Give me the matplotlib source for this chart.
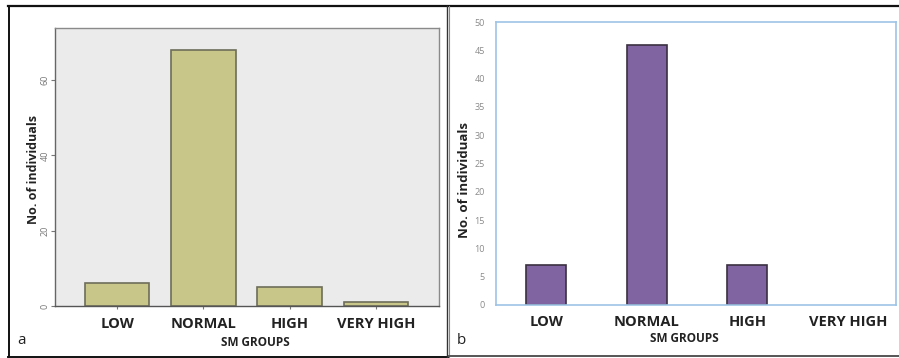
import matplotlib
matplotlib.use('Agg')
import matplotlib.pyplot as plt
from matplotlib.lines import Line2D

''' SM group counts, two panels (a: SPSS style, b: Excel style) '''

groups = ['LOW', 'NORMAL', 'HIGH', 'VERY HIGH']
counts_a = [6, 68, 5, 1]
counts_b = [7, 46, 7, 0]
yticks_a = [0, 20, 40, 60]
yticks_b = [0, 5, 10, 15, 20, 25, 30, 35, 40, 45, 50]

W, H = 899, 358
plt.rcParams['font.family'] = ['Open Sans', 'DejaVu Sans']


def px(x0, y0, x1, y1):
	# pixel box (top-left origin) -> figure fraction rect
	return [x0 / W, (H - y1) / H, (x1 - x0) / W, (y1 - y0) / H]


def main():
	fig = plt.figure(figsize=(W / 100, H / 100), dpi=100)
	fig.patch.set_facecolor('white')
	pos = range(len(groups))

	# panel a
	ax = fig.add_axes(px(55, 28, 439, 306))
	ax.set_facecolor('#ebebeb')
	ax.bar(pos, counts_a, width=0.75, color='#c8c688', edgecolor='#6e6e5a', linewidth=1.2, zorder=2)
	ax.set_xlim(-0.72, 3.73)
	ax.set_ylim(0, 73.8)
	ax.set_yticks(yticks_a)
	ax.set_yticklabels([str(v) for v in yticks_a], rotation=90, va='center', fontsize=6.5, color='#777777')
	ax.set_xticks(list(pos))
	ax.set_xticklabels(groups, fontsize=10.5, fontweight='bold', color='#222222')
	ax.tick_params(axis='y', length=3, width=0.8, color='#777777', pad=1)
	ax.tick_params(axis='x', length=4, width=0.8, color='#777777', pad=6, direction='inout')
	for s in ax.spines.values():
		s.set_color('#8a8a8a')
		s.set_linewidth(1.0)
	ax.spines['left'].set_color('#666666')
	ax.spines['bottom'].set_color('#555555')
	ax.set_ylabel('No. of individuals', fontsize=9, fontweight='bold', color='#222222')
	ax.yaxis.set_label_coords(-0.038, 0.49)
	fig.text(255 / W, 1 - 343 / H, 'SM GROUPS', ha='center', va='center', fontsize=8.5, fontweight='bold', color='#222222')
	fig.text(22 / W, 1 - 341 / H, 'a', ha='center', va='center', fontsize=11, color='#222222')

	# panel b
	bx = fig.add_axes(px(496, 22, 896, 305))
	bars = bx.bar(pos, counts_b, width=0.4, color='#8064a2', edgecolor='#3b3040', linewidth=1.2, zorder=2)
	for b in bars:
		if b.get_height() == 0:
			b.set_visible(False)
	bx.set_xlim(-0.5, 3.48)
	bx.set_ylim(0, 50)
	bx.set_yticks(yticks_b)
	bx.set_yticklabels([str(v) for v in yticks_b], fontsize=6.5, color='#8a8a8a')
	bx.set_xticks(list(pos))
	bx.set_xticklabels(groups, fontsize=10.5, fontweight='bold', color='#222222')
	bx.tick_params(axis='y', length=0, pad=8)
	bx.tick_params(axis='x', length=0, pad=7)
	for s in bx.spines.values():
		s.set_color('#9dc3e6')
		s.set_linewidth(1.2)
	bx.set_ylabel('No. of individuals', fontsize=9.5, fontweight='bold', color='#222222')
	bx.yaxis.set_label_coords(-0.062, 0.44)
	fig.text(684 / W, 1 - 339 / H, 'SM GROUPS', ha='center', va='center', fontsize=8.5, fontweight='bold', color='#222222')
	fig.text(461 / W, 1 - 341 / H, 'b', ha='center', va='center', fontsize=11, color='#222222')

	# panel frames
	def line(x0, y0, x1, y1, c, lw):
		fig.add_artist(Line2D([x0 / W, x1 / W], [1 - y0 / H, 1 - y1 / H], color=c, linewidth=lw))

	line(8, 6, 899, 6, '#111111', 1.6)
	line(9, 6, 9, 357, '#111111', 1.4)
	line(8, 357, 449, 357, '#111111', 1.4)
	line(447, 6, 447, 357, '#333333', 1.0)
	line(449, 6, 449, 357, '#888888', 0.8)
	line(449, 356, 899, 356, '#555555', 1.4)

	fig.savefig('out.png', dpi=100)


if __name__ == "__main__":
	main()
